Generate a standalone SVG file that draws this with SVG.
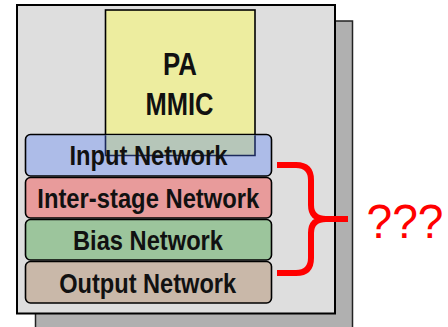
<svg xmlns="http://www.w3.org/2000/svg" width="448" height="327" viewBox="0 0 448 327">
<style>
  .lbl { font-family: "Liberation Sans", Arial, sans-serif; font-size: 27px; font-weight: bold; fill: #111; text-anchor: middle; }
  .big { font-size: 32px; }
  .net { stroke: #000; stroke-width: 1.6; }
</style>
<rect width="448" height="327" fill="#fff"/>
<g id="shadow">
  <rect x="35.5" y="21" width="317" height="310" fill="#b0b0b0" stroke="#222" stroke-width="1.5"/>
</g>
<g id="board">
  <rect x="17" y="5" width="318" height="308.5" fill="#dedede" stroke="#000" stroke-width="2"/>
</g>
<g id="pa-mmic">
  <rect x="105.5" y="10" width="149.5" height="146" fill="#eded9f" stroke="#000" stroke-width="1.6"/>
  <text class="lbl big" x="180" y="75" textLength="34" lengthAdjust="spacingAndGlyphs">PA</text>
  <text class="lbl big" x="179.5" y="115" textLength="68" lengthAdjust="spacingAndGlyphs">MMIC</text>
</g>
<g id="input-network">
  <rect class="net" x="25.5" y="134.5" width="246" height="41.5" rx="5" fill="#adbce8"/>
  <path d="M105.5,135.3 H255 V155.5 H105.5 Z" fill="#b6c6b9"/>
  <path d="M105.5,135.3 V155.5 H255 V135.3" fill="none" stroke="#1c2a5c" stroke-width="1.6"/>
  <text class="lbl" x="148.5" y="165" textLength="158" lengthAdjust="spacingAndGlyphs">Input Network</text>
</g>
<g id="interstage-network">
  <rect class="net" x="25.5" y="177.5" width="246" height="40.5" rx="5" fill="#e89b9b"/>
  <text class="lbl" x="148.3" y="208" textLength="222" lengthAdjust="spacingAndGlyphs">Inter-stage Network</text>
</g>
<g id="bias-network">
  <rect class="net" x="25.5" y="219.5" width="246" height="40.5" rx="5" fill="#9cc59c"/>
  <text class="lbl" x="148" y="250" textLength="150" lengthAdjust="spacingAndGlyphs">Bias Network</text>
</g>
<g id="output-network">
  <rect class="net" x="25.5" y="261.5" width="246" height="41.5" rx="5" fill="#c9b8a9"/>
  <text class="lbl" x="147.7" y="292.5" textLength="177" lengthAdjust="spacingAndGlyphs">Output Network</text>
</g>
<g id="connectors">
  <path d="M277,165 H296 Q311,165 311,180 V205 Q311,219 326,219 H348 M326,219 Q311,219 311,233 V258 Q311,273 296,273 H277" fill="none" stroke="#ff0000" stroke-width="6" stroke-linejoin="round"/>
</g>
<g id="question">
  <text x="405" y="238" font-family="Liberation Sans, Arial, sans-serif" font-size="49" fill="#ff0000" text-anchor="middle" textLength="77" lengthAdjust="spacingAndGlyphs">???</text>
</g>
</svg>
